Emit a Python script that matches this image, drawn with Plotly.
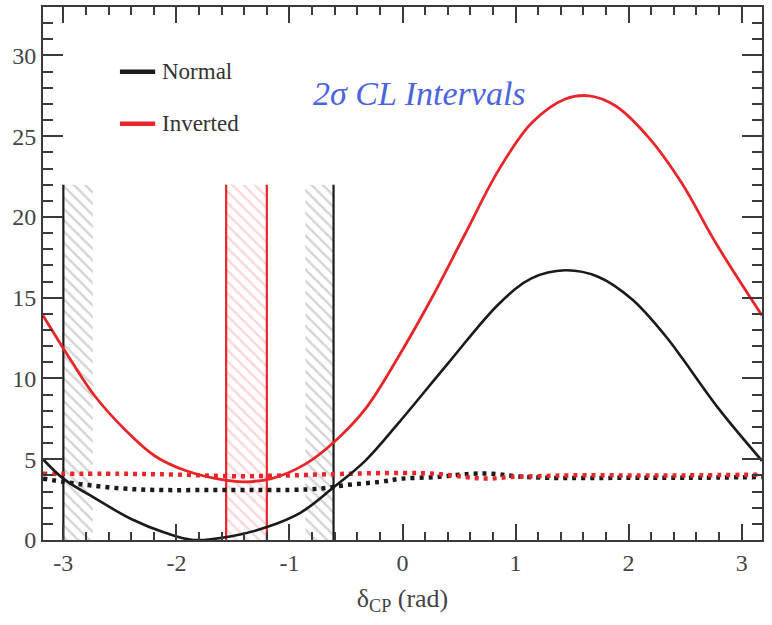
import plotly.graph_objects as go

# Delta chi-square vs delta_CP for the two mass orderings
normal_x = [-3.18, -3.0, -2.7, -2.4, -2.1, -1.85, -1.5, -1.2, -0.9, -0.62, -0.33, -0.04,
            0.41, 0.85, 1.14, 1.44, 1.73, 2.03, 2.33, 2.47, 2.8, 3.18]
normal_y = [5.0, 3.8, 2.5, 1.3, 0.45, 0.0, 0.25, 0.8, 1.7, 3.2, 4.9, 7.2,
            11.0, 14.6, 16.2, 16.7, 16.3, 14.9, 12.6, 11.3, 8.1, 4.9]

inverted_x = [-3.18, -2.94, -2.72, -2.45, -2.19, -1.92, -1.57, -1.39, -1.16, -0.86, -0.6,
              -0.33, -0.04, 0.26, 0.55, 0.85, 1.14, 1.44, 1.65, 1.88, 2.18, 2.47, 2.77, 3.18]
inverted_y = [13.9, 11.2, 8.9, 6.8, 5.2, 4.3, 3.7, 3.6, 3.8, 4.7, 6.1,
              8.1, 11.3, 15.0, 18.9, 22.9, 25.8, 27.3, 27.5, 26.9, 24.9, 22.1, 18.4, 13.9]

# 2 sigma critical values
normal_crit_x = [-3.18, -3.0, -2.78, -2.5, -2.2, -1.5, -1.0, -0.7, -0.5, -0.2, 0.0, 0.3,
                 0.6, 0.8, 1.0, 1.3, 2.0, 2.5, 3.18]
normal_crit_y = [3.8, 3.6, 3.4, 3.2, 3.1, 3.1, 3.1, 3.2, 3.4, 3.6, 3.8, 3.9,
                 4.1, 4.1, 3.95, 3.85, 3.85, 3.85, 3.9]

inverted_crit_x = [-3.18, -2.5, -2.0, -1.5, -1.0, -0.5, 0.0, 0.3, 0.55, 0.75, 0.95, 1.2,
                   1.5, 2.0, 2.5, 3.18]
inverted_crit_y = [4.1, 4.1, 4.05, 3.95, 4.0, 4.1, 4.15, 4.1, 3.9, 3.8, 3.9, 3.95,
                   4.0, 4.0, 4.0, 4.05]

# Interval edges and the excluded (hatched) bands
band_top = 22.0
normal_edges = [-3.0, -0.61]
normal_bands = [(-3.0, -2.74), (-0.86, -0.61)]
inverted_edges = [-1.56, -1.20]
inverted_bands = [(-1.56, -1.20)]

x_ticks = [-3, -2, -1, 0, 1, 2, 3]
x_tick_text = ["-3", "-2", "-1", "0", "1", "2", "3"]
y_ticks = [0, 5, 10, 15, 20, 25, 30]

BLACK = "#1a1a1a"
RED = "#e8262a"
SERIF = "Liberation Serif"

fig = go.Figure()


def add_band(x0, x1, color):
    fig.add_trace(go.Scatter(
        x=[x0, x1, x1, x0, x0], y=[0, 0, band_top, band_top, 0],
        mode="none", fill="toself", fillcolor="rgba(0,0,0,0)",
        fillpattern=dict(shape="\\", fgcolor=color, bgcolor="rgba(0,0,0,0)",
                         size=8, solidity=0.3),
        hoverinfo="skip", showlegend=False))


for x0, x1 in normal_bands:
    add_band(x0, x1, "rgba(110,110,110,0.6)")
for x0, x1 in inverted_bands:
    add_band(x0, x1, "rgba(235,90,95,0.5)")

for xv in normal_edges:
    fig.add_trace(go.Scatter(x=[xv, xv], y=[0, band_top], mode="lines",
                             line=dict(color=BLACK, width=2.2), showlegend=False))
for xv in inverted_edges:
    fig.add_trace(go.Scatter(x=[xv, xv], y=[0, band_top], mode="lines",
                             line=dict(color=RED, width=2.2), showlegend=False))

fig.add_trace(go.Scatter(x=normal_crit_x, y=normal_crit_y, mode="lines",
                         line=dict(color=BLACK, width=4.5, dash="4px,5px",
                                   shape="spline", smoothing=1.0),
                         showlegend=False))
fig.add_trace(go.Scatter(x=inverted_crit_x, y=inverted_crit_y, mode="lines",
                         line=dict(color=RED, width=4.5, dash="4px,5px",
                                   shape="spline", smoothing=1.0),
                         showlegend=False))

fig.add_trace(go.Scatter(x=normal_x, y=normal_y, mode="lines", name="Normal",
                         line=dict(color=BLACK, width=2.6, shape="spline", smoothing=1.0),
                         showlegend=False))
fig.add_trace(go.Scatter(x=inverted_x, y=inverted_y, mode="lines", name="Inverted",
                         line=dict(color=RED, width=2.8, shape="spline", smoothing=1.0),
                         showlegend=False))

# Hand-placed legend
legend_items = [("Normal", BLACK, 0.8785), ("Inverted", RED, 0.781)]
for label, color, yp in legend_items:
    fig.add_shape(type="line", xref="paper", yref="paper", x0=0.107, x1=0.156,
                  y0=yp, y1=yp, line=dict(color=color, width=4.5))
    fig.add_annotation(text=label, xref="paper", yref="paper", x=0.163, y=yp,
                       xanchor="left", yanchor="middle", showarrow=False,
                       font=dict(family=SERIF, size=23, color="#333333"))

fig.add_annotation(text="<i>2σ CL Intervals</i>", xref="paper", yref="paper",
                   x=0.524, y=0.837, xanchor="center", yanchor="middle",
                   showarrow=False,
                   font=dict(family=SERIF, size=34, color="#4a63e0"))

axis_common = dict(
    showline=True, linewidth=2, linecolor="#3a3a3a", mirror="ticks",
    ticks="inside", tickwidth=2, tickcolor="#3a3a3a",
    showgrid=False, zeroline=False,
    tickfont=dict(family=SERIF, size=24, color="#444444"),
)

fig.update_xaxes(
    range=[-3.18, 3.18], tickvals=x_ticks, ticktext=x_tick_text, ticklen=16,
    minor=dict(dtick=0.2, ticklen=8, ticks="inside", tickwidth=2, tickcolor="#3a3a3a"),
    title=dict(text="δ<sub>CP</sub> (rad)", standoff=14,
               font=dict(family=SERIF, size=26, color="#444444")),
    **axis_common)
fig.update_yaxes(
    range=[0, 33], tickvals=y_ticks, ticklen=20,
    minor=dict(dtick=1, ticklen=10, ticks="inside", tickwidth=2, tickcolor="#3a3a3a"),
    **axis_common)

fig.update_layout(
    width=772, height=625,
    margin=dict(l=43, r=10, t=5, b=85),
    paper_bgcolor="white", plot_bgcolor="white",
)

fig.write_html("out.html")
